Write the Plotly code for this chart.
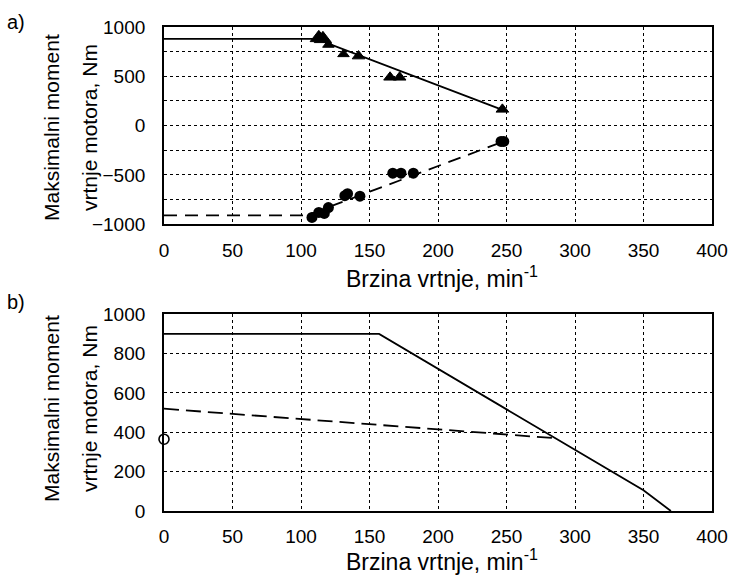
import plotly.graph_objects as go

# ---------------- data ----------------
# Panel a) measured maximum torque (triangles: positive, circles: negative)
tri_x = [113, 116, 120, 131, 142, 165, 172, 247]
tri_y = [890, 880, 820, 725, 705, 490, 490, 165]
tri_size = [15, 15, 10, 10, 11, 11, 11, 11]
circ_x = [108, 113, 117, 120, 132, 134, 143, 167, 173, 182, 246, 248]
circ_y = [-930, -880, -890, -830, -710, -690, -715, -482, -482, -482, -160, -160]

# Panel a) limit curves
a_solid_x = [0, 111, 248]
a_solid_y = [880, 880, 155]
a_dash_x = [0, 104, 247]
a_dash_y = [-910, -910, -165]

# Panel b) curves
b_solid_x = [0, 157, 350, 370]
b_solid_y = [900, 900, 105, 0]
b_dash_x = [0, 286]
b_dash_y = [520, 370]
b_point_x = [0]
b_point_y = [365]

x_ticks = [0, 50, 100, 150, 200, 250, 300, 350, 400]
a_y_ticks = [-1000, -500, 0, 500, 1000]
b_y_ticks = [0, 200, 400, 600, 800, 1000]

x_title = "Brzina vrtnje, min<sup>-1</sup>"
y_title_1 = "Maksimalni moment"
y_title_2 = "vrtnje motora, Nm"

# ---------------- figure ----------------
W, H = 730, 577
ML, MR, MT, MB = 164, 18, 27, 66
PW, PH = W - ML - MR, H - MT - MB

def px_x(px):
    return (px - ML) / PW

def px_y(py):
    return 1 - (py - MT) / PH

top_dom = [px_y(224.3), 1.0]
bot_dom = [0.0, px_y(314.3)]

FONT = "Liberation Sans, Arial, sans-serif"

fig = go.Figure()

# panel a
fig.add_trace(go.Scatter(x=a_solid_x, y=a_solid_y, mode="lines",
                         line=dict(color="black", width=1.8),
                         xaxis="x", yaxis="y", showlegend=False))
fig.add_trace(go.Scatter(x=a_dash_x, y=a_dash_y, mode="lines",
                         line=dict(color="black", width=1.8, dash="13px,8px"),
                         xaxis="x", yaxis="y", showlegend=False))
fig.add_trace(go.Scatter(x=tri_x, y=tri_y, mode="markers",
                         marker=dict(symbol="triangle-up", color="black", size=tri_size,
                                     opacity=1, line=dict(color="black", width=1)),
                         xaxis="x", yaxis="y", showlegend=False))
fig.add_trace(go.Scatter(x=circ_x, y=circ_y, mode="markers",
                         marker=dict(symbol="circle", color="black", size=11, opacity=1),
                         xaxis="x", yaxis="y", showlegend=False))

# panel b
fig.add_trace(go.Scatter(x=b_solid_x, y=b_solid_y, mode="lines",
                         line=dict(color="black", width=1.8),
                         xaxis="x2", yaxis="y2", showlegend=False))
fig.add_trace(go.Scatter(x=b_dash_x, y=b_dash_y, mode="lines",
                         line=dict(color="black", width=1.8, dash="15px,7px"),
                         xaxis="x2", yaxis="y2", showlegend=False))
fig.add_trace(go.Scatter(x=b_point_x, y=b_point_y, mode="markers", cliponaxis=False,
                         marker=dict(symbol="circle", color="white", size=10,
                                     line=dict(color="black", width=1.6)),
                         xaxis="x2", yaxis="y2", showlegend=False))

grid = dict(showgrid=True, gridcolor="black", griddash="dot", gridwidth=1)
axis_common = dict(showline=True, mirror=True, linecolor="black", linewidth=1.8,
                   zeroline=False, ticks="", automargin=False,
                   tickfont=dict(family=FONT, size=19, color="black"), **grid)

fig.update_layout(
    width=W, height=H, autosize=False,
    margin=dict(l=ML, r=MR, t=MT, b=MB, pad=0),
    paper_bgcolor="white", plot_bgcolor="white",
    font=dict(family=FONT, color="black"),
    xaxis=dict(axis_common, domain=[0, 1], range=[0, 400], tickvals=x_ticks,
               anchor="y", ticklabelstandoff=8),
    yaxis=dict(axis_common, domain=top_dom, range=[-1000, 1000],
               tickvals=a_y_ticks, anchor="x", ticklabelstandoff=13,
               minor=dict(dtick=250, tick0=0, ticks="", **grid)),
    xaxis2=dict(axis_common, domain=[0, 1], range=[0, 400], tickvals=x_ticks,
                anchor="y2", ticklabelstandoff=7),
    yaxis2=dict(axis_common, domain=bot_dom, range=[0, 1000],
                tickvals=b_y_ticks, anchor="x2", ticklabelstandoff=13),
)

ann = []
def add_text(text, px, py, size, angle=0):
    ann.append(dict(text=text, xref="paper", yref="paper", x=px_x(px), y=px_y(py),
                    xanchor="center", yanchor="middle", showarrow=False,
                    textangle=angle, font=dict(family=FONT, size=size, color="black")))

add_text("a)", 16, 22, 20)
add_text("b)", 16, 302, 20)
for cy in (128, 409):
    add_text(y_title_1, 51, cy, 21, -90)
    add_text(y_title_2, 89, cy, 21, -90)
add_text(x_title, 442, 277, 23)
add_text(x_title, 442, 560, 23)
fig.update_layout(annotations=ann)

post = ("document.body.style.margin='0';document.body.style.padding='0';"
        "Plotly.relayout('{plot_id}', {width: 730, height: 577});")
fig.write_html("out.html", post_script=post,
               config={"responsive": False, "displayModeBar": False})
